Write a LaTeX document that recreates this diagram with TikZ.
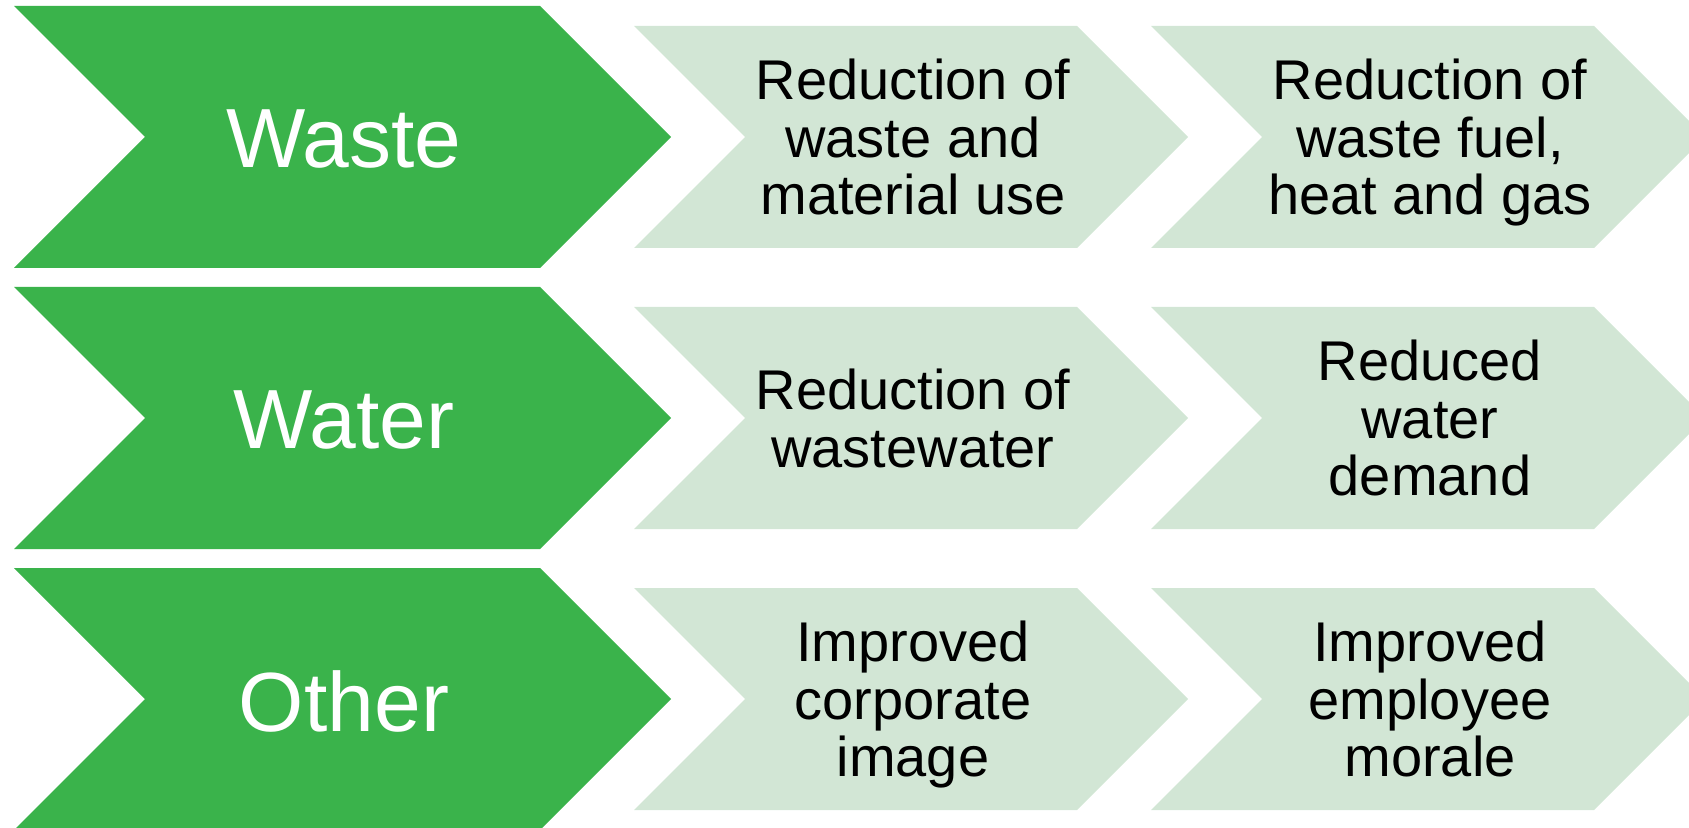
\documentclass[tikz,border=0pt]{standalone}
\usepackage{fontspec}
\setmainfont{Liberation Sans}
\definecolor{darkgreen}{HTML}{3AB34B}
\definecolor{lightgreen}{HTML}{D2E6D5}
\newcommand{\chevron}[5]{% colour, left x, top y, total width, height
  \fill[#1] (#2,#3) -- ++({#4-#5/2},0) -- ++({#5/2},{#5/2}) -- ++({-#5/2},{#5/2})
    -- ++({-#4+#5/2},0) -- ++({#5/2},{-#5/2}) -- cycle;}
\begin{document}
\begin{tikzpicture}[x=0.5pt,y=-0.5pt,
  darktext/.style={text=white,font=\fontsize{42}{48}\selectfont,align=center,inner sep=0pt},
  lighttext/.style={text=black,font=\fontsize{28}{28.75}\selectfont,align=center,inner sep=0pt,text depth=0pt}]
\useasboundingbox (0,0) rectangle (1689,828);
\clip (0,0) rectangle (1689,828);
% row 1
\chevron{darkgreen}{14}{6}{657}{262}
\chevron{lightgreen}{634}{26}{554}{222}
\chevron{lightgreen}{1151}{26}{554}{222}
% row 2
\chevron{darkgreen}{14}{287}{657}{262}
\chevron{lightgreen}{634}{307}{554}{222}
\chevron{lightgreen}{1151}{307}{554}{222}
% row 3
\chevron{darkgreen}{14}{568}{657}{262}
\chevron{lightgreen}{634}{588}{554}{222}
\chevron{lightgreen}{1151}{588}{554}{222}
% texts
\node[darktext] (waste) at (344,139) {Waste};
\node[darktext] (water) at (344,420) {Water};
\node[darktext] (other) at (344,701) {Other};
\node[lighttext] (r1a) at (913,137) {Reduction of\\waste and\\material use};
\node[lighttext] (r1b) at (1430,137) {Reduction of\\waste fuel,\\heat and gas};
\node[lighttext] (r2a) at (913,418) {Reduction of\\wastewater};
\node[lighttext] (r2b) at (1430,418) {Reduced\\water\\demand};
\node[lighttext] (r3a) at (913,699) {Improved\\corporate\\image};
\node[lighttext] (r3b) at (1430,699) {Improved\\employee\\morale};
\end{tikzpicture}
\end{document}
